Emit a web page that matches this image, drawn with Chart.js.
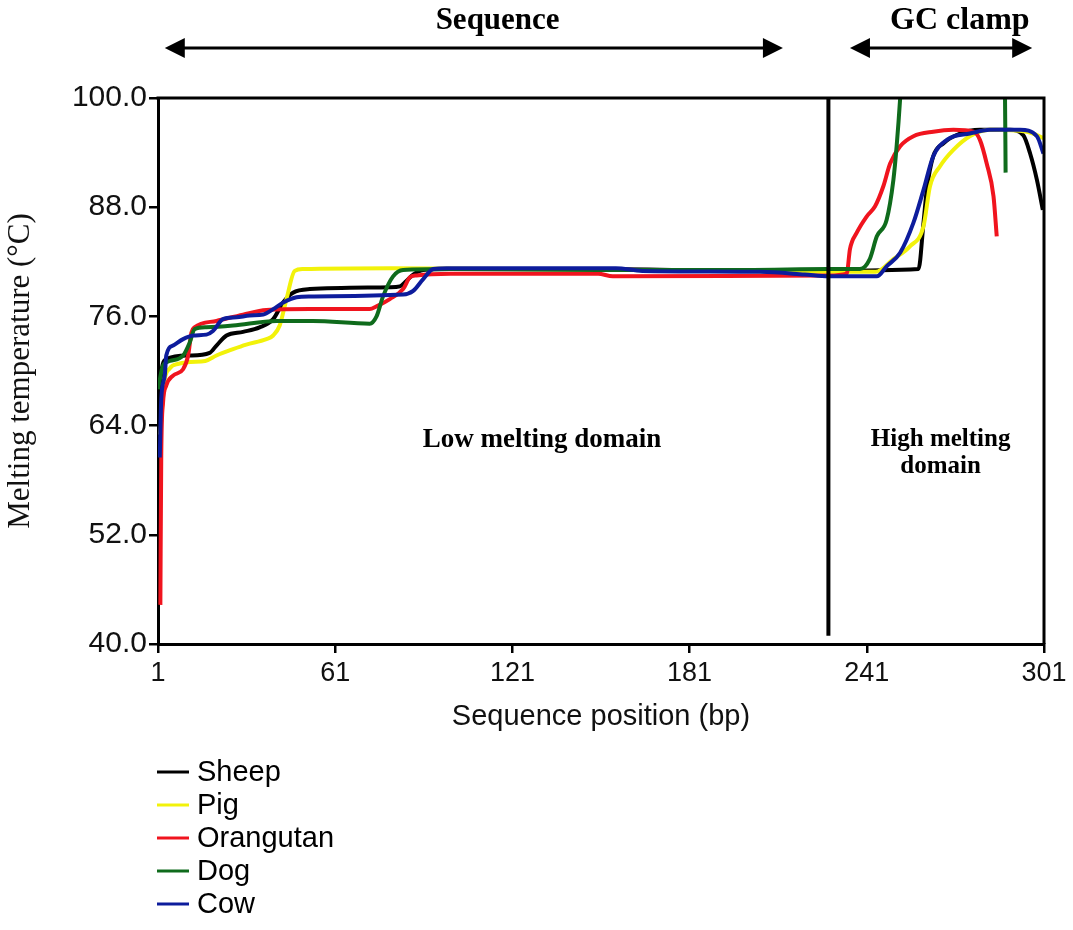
<!DOCTYPE html>
<html>
<head>
<meta charset="utf-8">
<script src="https://cdn.jsdelivr.net/npm/chart.js@4.4.1/dist/chart.umd.min.js"></script>
<style>
  html, body { margin: 0; padding: 0; background: #fff; }
  canvas { display: block; }
</style>
</head>
<body>
<canvas id="meltChart" width="1073" height="930"></canvas>
<script>
// tick values
const xTicks = [1, 61, 121, 181, 241, 301];
const yTicks = [40, 52, 64, 76, 88, 100];

// melting profiles, position (bp) vs melting temperature (C)
const sheepBp = [1.4, 2, 3.8, 11.7, 18.5, 20.8, 24.2, 29.8, 35.4, 40, 43.3, 46.7, 52.4, 79.5, 82.9, 85.1, 87.4, 90.8, 100, 150, 200, 228, 258.5, 260.2, 261.3, 263.5, 266.9, 272.6, 279.3, 289.5, 294, 296.3, 298.6, 300.6];
const sheepTm = [66.5, 69.5, 71.3, 71.7, 72.0, 72.8, 73.9, 74.3, 74.8, 75.7, 77.5, 78.6, 79.0, 79.2, 79.3, 79.9, 80.6, 81.1, 81.2, 81.2, 81.0, 81.0, 81.2, 86.3, 89.9, 93.6, 95.0, 96.1, 96.5, 96.5, 95.9, 93.9, 91.0, 87.7];

const pigBp = [1.8, 3, 5, 8, 12, 17, 20.8, 26.4, 30.9, 37.7, 40, 42.2, 44.5, 47.3, 50.1, 80, 120, 160, 200, 228, 244, 250, 255.6, 260.2, 262.4, 265.8, 270.3, 275.9, 282.7, 295.2, 300.8];
const pigTm = [63, 68.5, 70.3, 70.8, 71.0, 71.1, 71.7, 72.4, 72.9, 73.5, 73.9, 75.0, 77.9, 81.0, 81.2, 81.3, 81.2, 81.1, 81.0, 80.9, 80.9, 82.3, 83.7, 85.9, 90.3, 92.5, 94.3, 95.8, 96.5, 96.3, 95.6];

const orangutanBp = [1.8, 2.1, 2.7, 3.8, 6.1, 9.5, 11.2, 12.3, 13.4, 20.8, 29.8, 37.7, 52.4, 72.7, 75, 79.5, 84, 86.3, 88.5, 100, 150, 155, 228, 234.2, 235.3, 237.6, 241, 243.8, 246.6, 248.9, 252.3, 256.8, 263.5, 270.3, 277.1, 279.3, 281.6, 283.9, 285];
const orangutanTm = [44.3, 60.7, 66.5, 68.4, 69.5, 70.2, 71.7, 74.2, 74.8, 75.5, 76.2, 76.7, 76.8, 76.8, 77.1, 77.9, 79.0, 80.3, 80.5, 80.7, 80.7, 80.4, 80.5, 80.7, 83.4, 85.2, 87.0, 88.1, 90.3, 92.8, 94.7, 95.8, 96.3, 96.5, 96.3, 95.4, 92.8, 89.2, 84.8];

const dogBp = [1, 2.7, 5, 9.5, 11.7, 13.4, 17.4, 26.4, 41.1, 53.4, 72.7, 75, 77.2, 80.6, 84, 100, 150, 200, 228, 238.7, 242, 244.4, 247.7, 250, 251.1, 252.3, 253, 287, 287.8, 288];
const dogTm = [68, 70.6, 71.1, 71.7, 73.1, 74.6, 74.8, 75.0, 75.5, 75.5, 75.2, 76.0, 78.2, 80.4, 81.1, 81.2, 81.1, 81.1, 81.2, 81.2, 82.3, 84.8, 86.6, 91, 94.7, 100, 104, 104, 100, 91.8];

const cowBp = [1.6, 2.1, 3.3, 3.8, 6.1, 9.5, 12.9, 17.4, 19.6, 23, 27.6, 32.1, 36.6, 40, 43.3, 47.9, 52.4, 84, 87.4, 90.8, 94.2, 98.7, 156, 165, 205, 220, 228, 244.4, 247.7, 252.3, 256.8, 260.2, 263.5, 268.1, 275.9, 282.7, 292.9, 298.6, 300.8];
const cowTm = [60.5, 66.9, 69.5, 71.7, 72.8, 73.5, 73.9, 74.0, 74.4, 75.7, 75.9, 76.1, 76.2, 76.8, 77.5, 78.1, 78.2, 78.4, 78.8, 80.1, 81.2, 81.3, 81.3, 81.0, 80.9, 80.6, 80.4, 80.4, 81.5, 83.0, 86.3, 89.9, 93.6, 95.4, 96.1, 96.5, 96.5, 95.8, 93.9];

// boundary between low and high melting domain
const boundaryBp = [228, 228];
const boundaryTm = [100, 40.9];

const seriesNames = ['Sheep', 'Pig', 'Orangutan', 'Dog', 'Cow'];
const seriesColors = ['#000000', '#f2f20a', '#f0141e', '#0f6b1c', '#0d1c9c'];
const seriesBp = [sheepBp, pigBp, orangutanBp, dogBp, cowBp];
const seriesTm = [sheepTm, pigTm, orangutanTm, dogTm, cowTm];

function toPoints(xs, ys) {
  return xs.map((x, i) => ({ x: x, y: ys[i] }));
}

const datasets = seriesNames.map((name, i) => ({
  label: name,
  data: toPoints(seriesBp[i], seriesTm[i]),
  borderColor: seriesColors[i],
  backgroundColor: seriesColors[i],
  borderWidth: 4,
  pointRadius: 0,
  cubicInterpolationMode: 'monotone',
  order: 5 - i,
}));

datasets.push({
  label: 'boundary',
  data: toPoints(boundaryBp, boundaryTm),
  borderColor: '#000',
  borderWidth: 4,
  pointRadius: 0,
  order: 0,
});

function arrow(ctx, x1, x2, y) {
  const head = 20, half = 10;
  ctx.beginPath();
  ctx.moveTo(x1 + head - 2, y);
  ctx.lineTo(x2 - head + 2, y);
  ctx.lineWidth = 3;
  ctx.strokeStyle = '#000';
  ctx.stroke();
  ctx.beginPath();
  ctx.moveTo(x1, y);
  ctx.lineTo(x1 + head, y - half);
  ctx.lineTo(x1 + head, y + half);
  ctx.closePath();
  ctx.moveTo(x2, y);
  ctx.lineTo(x2 - head, y - half);
  ctx.lineTo(x2 - head, y + half);
  ctx.closePath();
  ctx.fillStyle = '#000';
  ctx.fill();
}

const decorations = {
  id: 'decorations',
  afterDraw(chart) {
    const ctx = chart.ctx;
    const area = chart.chartArea;
    const xs = chart.scales.x;
    ctx.save();

    // closing frame on top and right
    ctx.strokeStyle = '#000';
    ctx.lineWidth = 3;
    ctx.beginPath();
    ctx.moveTo(area.left - 1.5, area.top);
    ctx.lineTo(area.right, area.top);
    ctx.lineTo(area.right, area.bottom);
    ctx.stroke();

    // region labels above the plot
    ctx.fillStyle = '#000';
    ctx.textAlign = 'center';
    ctx.textBaseline = 'middle';
    ctx.font = 'bold 31px "Liberation Serif", serif';
    ctx.fillText('Sequence', xs.getPixelForValue(116), area.top - 77);
    ctx.font = 'bold 32px "Liberation Serif", serif';
    ctx.fillText('GC clamp', xs.getPixelForValue(272.5), area.top - 77);
    arrow(ctx, xs.getPixelForValue(3.3), xs.getPixelForValue(212.6), area.top - 50);
    arrow(ctx, xs.getPixelForValue(235.3), xs.getPixelForValue(297), area.top - 50);

    // domain labels
    ctx.font = 'bold 27px "Liberation Serif", serif';
    ctx.fillText('Low melting domain', xs.getPixelForValue(131), area.top + 342);
    ctx.font = 'bold 25px "Liberation Serif", serif';
    ctx.fillText('High melting', xs.getPixelForValue(266), area.top + 342);
    ctx.fillText('domain', xs.getPixelForValue(266), area.top + 369);

    // legend, one entry per row
    ctx.textAlign = 'left';
    ctx.font = '29px "Liberation Sans", Arial, sans-serif';
    chart.data.datasets.slice(0, seriesNames.length).forEach((ds, i) => {
      const y = 772 + i * 33;
      ctx.beginPath();
      ctx.moveTo(157, y);
      ctx.lineTo(189, y);
      ctx.lineWidth = 3;
      ctx.strokeStyle = ds.borderColor;
      ctx.stroke();
      ctx.fillStyle = '#000';
      ctx.fillText(ds.label, 197, y + 1);
    });
    ctx.restore();
  },
};

new Chart(document.getElementById('meltChart').getContext('2d'), {
  type: 'line',
  data: { datasets: datasets },
  options: {
    responsive: false,
    maintainAspectRatio: false,
    devicePixelRatio: 1,
    animation: false,
    layout: { padding: { left: 0, top: 98, right: 29, bottom: 192 } },
    plugins: {
      legend: { display: false },
      tooltip: { enabled: false },
    },
    scales: {
      x: {
        type: 'linear',
        min: 1,
        max: 301,
        afterBuildTicks: scale => { scale.ticks = xTicks.map(v => ({ value: v })); },
        afterFit: scale => { scale.height = 94; },
        grid: { drawOnChartArea: false, drawTicks: true, tickLength: 9, color: '#000', lineWidth: 2.5 },
        border: { display: true, color: '#000', width: 3 },
        ticks: {
          color: '#111',
          padding: 4,
          maxRotation: 0,
          autoSkip: false,
          font: { family: '"Liberation Sans", Arial, sans-serif', size: 27 },
        },
        title: {
          display: true,
          text: 'Sequence position (bp)',
          color: '#111',
          padding: { top: 0, bottom: 4 },
          font: { family: '"Liberation Sans", Arial, sans-serif', size: 29 },
        },
      },
      y: {
        type: 'linear',
        min: 40,
        max: 100,
        afterBuildTicks: scale => { scale.ticks = yTicks.map(v => ({ value: v })); },
        afterFit: scale => { scale.width = 158; },
        grid: { drawOnChartArea: false, drawTicks: true, tickLength: 9, color: '#000', lineWidth: 2.5 },
        border: { display: true, color: '#000', width: 3 },
        ticks: {
          color: '#111',
          padding: 2,
          autoSkip: false,
          callback: v => Number(v).toFixed(1),
          font: { family: '"Liberation Sans", Arial, sans-serif', size: 30 },
        },
        title: {
          display: true,
          text: 'Melting temperature (°C)',
          color: '#111',
          padding: { top: 2, bottom: 0 },
          font: { family: '"Liberation Serif", "Times New Roman", serif', size: 31 },
        },
      },
    },
  },
  plugins: [decorations],
});
</script>
</body>
</html>
